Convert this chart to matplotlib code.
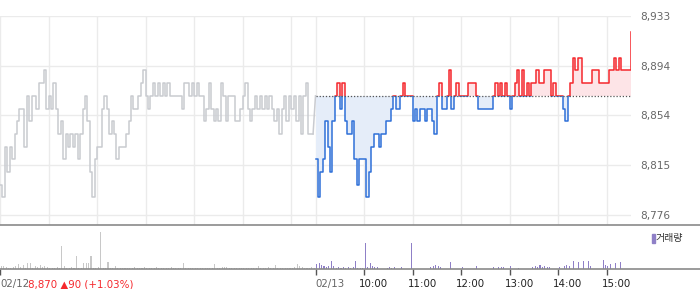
import numpy as np
import matplotlib
matplotlib.use("Agg")
import matplotlib.pyplot as plt
from matplotlib.patches import Rectangle
from matplotlib.lines import Line2D
from matplotlib import transforms

# ---------------- data ----------------
# 3-minute samples, session 09:00-15:30
day1_price = [
    8800, 8790, 8830, 8810, 8830, 8820, 8840, 8850, 8860, 8860,
    8830, 8870, 8850, 8870, 8870, 8860, 8880, 8880, 8890, 8860,
    8870, 8860, 8880, 8860, 8840, 8850, 8820, 8840, 8830, 8840,
    8830, 8840, 8820, 8840, 8860, 8870, 8850, 8810, 8790, 8820,
    8830, 8830, 8860, 8870, 8860, 8840, 8850, 8840, 8820, 8830,
    8830, 8830, 8840, 8850, 8870, 8860, 8860, 8870, 8880, 8890,
    8870, 8860, 8870, 8880, 8870, 8880, 8870, 8880, 8870, 8880,
    8870, 8870, 8870, 8870, 8870, 8860, 8880, 8880, 8870, 8880,
    8870, 8880, 8870, 8870, 8850, 8860, 8880, 8860, 8850, 8860,
    8850, 8880, 8870, 8850, 8870, 8870, 8870, 8850, 8850, 8860,
    8870, 8880, 8860, 8850, 8860, 8870, 8860, 8870, 8860, 8870,
    8860, 8870, 8860, 8850, 8860, 8840, 8860, 8870, 8850, 8870,
    8860, 8870, 8850, 8870, 8840, 8870, 8880, 8840, 8840, 8840,
]
day2_price = [
    8820, 8790, 8810, 8820, 8850, 8830, 8810, 8850, 8870, 8880,
    8860, 8880, 8850, 8840, 8840, 8850, 8820, 8800, 8820, 8820,
    8820, 8790, 8810, 8830, 8840, 8840, 8830, 8840, 8840, 8850,
    8850, 8860, 8870, 8860, 8860, 8870, 8880, 8870, 8870, 8870,
    8850, 8860, 8850, 8860, 8860, 8850, 8860, 8860, 8850, 8840,
    8870, 8880, 8860, 8860, 8870, 8890, 8860, 8870, 8880, 8870,
    8870, 8870, 8870, 8880, 8880, 8880, 8870, 8860, 8860, 8860,
    8860, 8860, 8860, 8870, 8880, 8870, 8880, 8870, 8880, 8870,
    8860, 8870, 8880, 8890, 8870, 8890, 8870, 8880, 8870, 8880,
    8880, 8890, 8880, 8880, 8890, 8890, 8890, 8870, 8880, 8870,
    8870, 8870, 8860, 8850, 8870, 8880, 8900, 8890, 8900, 8900,
    8880, 8880, 8880, 8880, 8890, 8890, 8890, 8880, 8880, 8880,
    8880, 8890, 8890, 8900, 8890, 8900, 8890, 8890, 8890, 8890,
    8920,
]
day1_volume = [
    3, 3, 2, 1, 1, 2, 3, 5, 2, 4,
    1, 6, 6, 1, 3, 2, 4, 2, 3, 2,
    1, 1, 1, 2, 1, 23, 3, 1, 1, 2,
    1, 13, 1, 1, 6, 6, 6, 13, 1, 1,
    2, 37, 1, 1, 7, 1, 1, 3, 1, 1,
    1, 1, 1, 1, 1, 2, 1, 1, 1, 2,
    1, 1, 1, 1, 2, 1, 1, 1, 1, 1,
    2, 1, 1, 1, 1, 6, 1, 1, 1, 1,
    1, 1, 1, 1, 1, 1, 1, 1, 5, 1,
    1, 2, 2, 2, 1, 1, 1, 1, 1, 1,
    1, 1, 1, 1, 1, 1, 3, 1, 1, 1,
    2, 1, 1, 4, 1, 1, 1, 1, 1, 1,
    1, 2, 5, 3, 2, 1, 1, 1, 2, 1,
]
day2_volume = [
    5, 6, 4, 3, 2, 3, 8, 3, 1, 2,
    1, 2, 1, 2, 1, 2, 8, 1, 1, 1,
    26, 2, 6, 3, 2, 2, 0, 0, 0, 1,
    2, 1, 2, 0, 0, 2, 0, 0, 0, 26,
    0, 0, 0, 0, 0, 0, 0, 2, 3, 4,
    3, 2, 0, 0, 0, 7, 0, 0, 0, 0,
    2, 0, 0, 0, 0, 0, 3, 0, 0, 0,
    0, 0, 0, 2, 0, 2, 2, 2, 0, 0,
    3, 0, 0, 1, 0, 0, 0, 0, 0, 2,
    3, 2, 4, 2, 3, 2, 2, 0, 0, 0,
    2, 0, 3, 4, 3, 0, 8, 0, 7, 0,
    8, 0, 8, 3, 0, 0, 0, 0, 9, 4,
    3, 5, 0, 6, 0, 7, 0, 0, 0, 0,
    13,
]
base_price = 8870
price_ticks = [8776, 8815.25, 8854.5, 8893.75, 8933]
day2_hour_labels = ["02/13", "10:00", "11:00", "12:00", "13:00", "14:00", "15:00"]
day1_label = "02/12"
change_text = "8,870 \u25b290 (+1.03%)"
volume_label = "거래량"

# ---------------- styling ----------------
GRID = "#ebebeb"
GRAY_LINE = "#c9cbd0"
BLUE = "#2f70d8"
RED = "#f5282d"
BLUE_FILL = "#e5edf9"
RED_FILL = "#fde4e7"
PURPLE = "#8f80c7"
VOL_GRAY = "#c8c8c8"
AXIS = "#8a8a8a"

SESSION = 390  # minutes per session
step = 3
x1 = np.arange(len(day1_price)) * step
x2 = SESSION + np.arange(len(day2_price)) * step
y1 = np.array(day1_price, dtype=float)
y2 = np.array(day2_price, dtype=float)

W, H = 700, 289
fig = plt.figure(figsize=(W / 100, H / 100), dpi=100)
fig.patch.set_facecolor("white")

plot_w = 631 / W
ax = fig.add_axes([0, 1 - 225 / H, plot_w, (225 - 16) / H])
vax = fig.add_axes([0, 1 - 268.7 / H, plot_w, 43.4 / H])

xmax = 2 * SESSION
ax.set_xlim(0, xmax)
ax.set_ylim(8768.1, 8933)

# grid
grid_x = [d * SESSION + h * 60 for d in range(2) for h in range(7)]
for gx in grid_x:
    ax.axvline(gx, color=GRID, lw=1, zorder=0)
for gy in price_ticks:
    ax.axhline(gy, color=GRID, lw=1, zorder=0)

# day 1 gray line
ax.plot(x1, y1, drawstyle="steps-post", color=GRAY_LINE, lw=1.1, zorder=2)
ax.plot([x1[-1], x2[0]], [y1[-1], base_price], color=GRAY_LINE, lw=1.1, zorder=2)

# day 2 fills
ax.fill_between(x2, np.minimum(y2, base_price), base_price, step="post",
                color=BLUE_FILL, lw=0, zorder=1)
ax.fill_between(x2, np.maximum(y2, base_price), base_price, step="post",
                color=RED_FILL, lw=0, zorder=1)

# day 2 line colored by side of base
up, = ax.plot(x2, y2, drawstyle="steps-post", color=RED, lw=1.1, zorder=3)
dn, = ax.plot(x2, y2, drawstyle="steps-post", color=BLUE, lw=1.1, zorder=3)
up.set_clip_path(Rectangle((0, base_price), xmax, 500, transform=ax.transData))
dn.set_clip_path(Rectangle((0, base_price - 500), xmax, 500, transform=ax.transData))

ax.plot([SESSION, xmax], [base_price, base_price], color="#555555", lw=0.9,
        ls=(0, (1, 1.5)), zorder=4)

for s in ax.spines.values():
    s.set_visible(False)
ax.set_xticks([])
ax.yaxis.tick_right()
ax.set_yticks(price_ticks)
ax.set_yticklabels([f"{v:,.0f}" for v in price_ticks])
ax.tick_params(axis="y", length=0, pad=7, labelsize=7.6, labelcolor="#666666")

# ---------------- volume ----------------
vx1 = x1 + 1.5
vx2 = x2 + 1.5
vax.bar(vx1, day1_volume, width=1.3, color=VOL_GRAY, lw=0)
vax.bar(vx2, day2_volume, width=1.3, color=PURPLE, lw=0)
vax.set_xlim(0, xmax)
vax.set_ylim(0, 43.4)
for s in vax.spines.values():
    s.set_visible(False)
vax.set_yticks([])
tick_pos = [0] + [SESSION + h * 60 for h in range(len(day2_hour_labels))]
vax.set_xticks(tick_pos)
vax.set_xticklabels([])
vax.tick_params(axis="x", length=4, width=1, color="#555555", direction="out")

trans = transforms.blended_transform_factory(vax.transData, vax.transAxes)
lbl_kw = dict(fontsize=7.4, va="center", ha="left")
vax.text(0, 0, day1_label, color="#666666",
         transform=transforms.offset_copy(trans, fig=fig, x=0, y=-15.5, units="dots"), **lbl_kw)
for i, (pos, lab) in enumerate(zip(tick_pos[1:], day2_hour_labels)):
    dx = 0 if i == 0 else -5
    col = "#666666" if i == 0 else "#222222"
    vax.text(pos, 0, lab, color=col,
             transform=transforms.offset_copy(trans, fig=fig, x=dx, y=-15.5, units="dots"),
             **lbl_kw)

fig.text(28 / W, 1 - 284.5 / H, change_text, color=RED, fontsize=7.4, va="center", ha="left")

# figure-wide separator lines
for ypx in (225.3, 268.7):
    fig.add_artist(Line2D([0, 1], [1 - ypx / H, 1 - ypx / H], color=AXIS, lw=1.2,
                          transform=fig.transFigure))

# legend
fig.add_artist(Rectangle((651.5 / W, 1 - 243 / H), 3 / W, 9 / H, color=PURPLE,
                         transform=fig.transFigure))
fig.text(656 / W, 1 - 238.5 / H, volume_label, color="#333333", fontsize=7.2,
         va="center", ha="left", family=["Noto Sans CJK KR", "DejaVu Sans"])

fig.savefig("out.png", dpi=100, facecolor="white")
